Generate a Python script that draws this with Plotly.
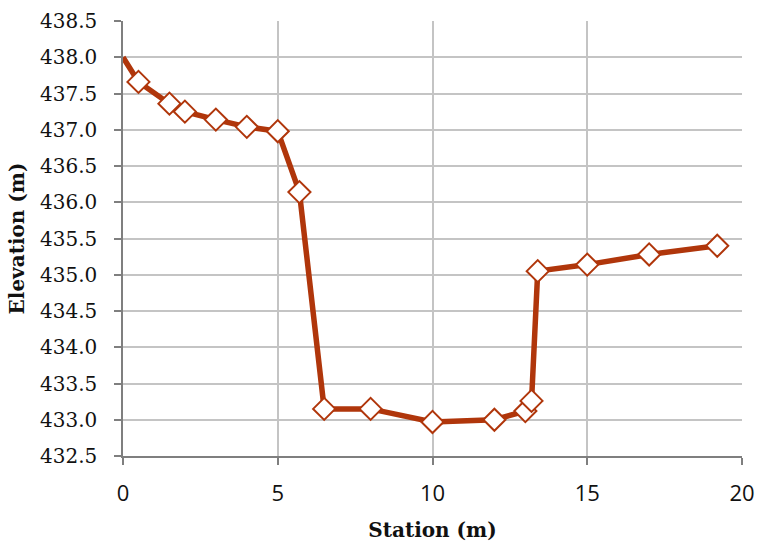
import plotly.graph_objects as go

station = [0, 0.5, 1.5, 2.0, 3.0, 4.0, 5.0, 5.7, 6.5, 8.0, 10.0, 12.0, 13.0, 13.2, 13.4, 15.0, 17.0, 19.2]
elevation = [438.0, 437.66, 437.36, 437.25, 437.14, 437.04, 436.98, 436.14, 433.15, 433.15,
             432.97, 433.0, 433.12, 433.26, 435.05, 435.14, 435.28, 435.40]
y_ticks = [432.5, 433.0, 433.5, 434.0, 434.5, 435.0, 435.5, 436.0, 436.5, 437.0, 437.5, 438.0, 438.5]
x_ticks = [0, 5, 10, 15, 20]

color = "#B0360B"
sizes = [0] + [17] * (len(station) - 1)
serif = "DejaVu Serif, Liberation Serif, serif"

fig = go.Figure()
fig.add_trace(go.Scatter(
    x=station, y=elevation, mode="lines+markers",
    line=dict(color=color, width=5.5),
    marker=dict(symbol="diamond", size=sizes, color="white", opacity=1,
                line=dict(color=color, width=2)),
    cliponaxis=False,
))

fig.update_layout(
    width=759, height=545,
    margin=dict(l=123, r=17, t=21, b=89),
    paper_bgcolor="white", plot_bgcolor="white",
    showlegend=False,
    xaxis=dict(
        range=[0, 20], tickvals=x_ticks, ticktext=[str(v) for v in x_ticks],
        showgrid=True, gridcolor="#C4C4C4", gridwidth=1.5,
        showline=True, linecolor="#7F7F7F", linewidth=1.5,
        ticks="outside", ticklen=7, tickcolor="#7F7F7F", tickwidth=1.5,
        ticklabelstandoff=10,
        tickfont=dict(family="Open Sans, Liberation Sans, sans-serif", size=22, color="#111"),
        title=dict(text="<b>Station (m)</b>", standoff=17,
                   font=dict(family=serif, size=20, color="#111")),
        zeroline=False, automargin=False,
    ),
    yaxis=dict(
        range=[432.5, 438.5], tickvals=y_ticks, ticktext=[f"{v:.1f}" for v in y_ticks],
        showgrid=True, gridcolor="#C4C4C4", gridwidth=1.5,
        showline=True, linecolor="#7F7F7F", linewidth=1.5,
        ticks="outside", ticklen=7, tickcolor="#7F7F7F", tickwidth=1.5,
        ticklabelstandoff=13,
        tickfont=dict(family=serif, size=20, color="#111"),
        title=dict(text="<b>Elevation (m)</b>", standoff=10,
                   font=dict(family=serif, size=20, color="#111")),
        zeroline=False, automargin=False,
    ),
)

fig.write_html("out.html")
